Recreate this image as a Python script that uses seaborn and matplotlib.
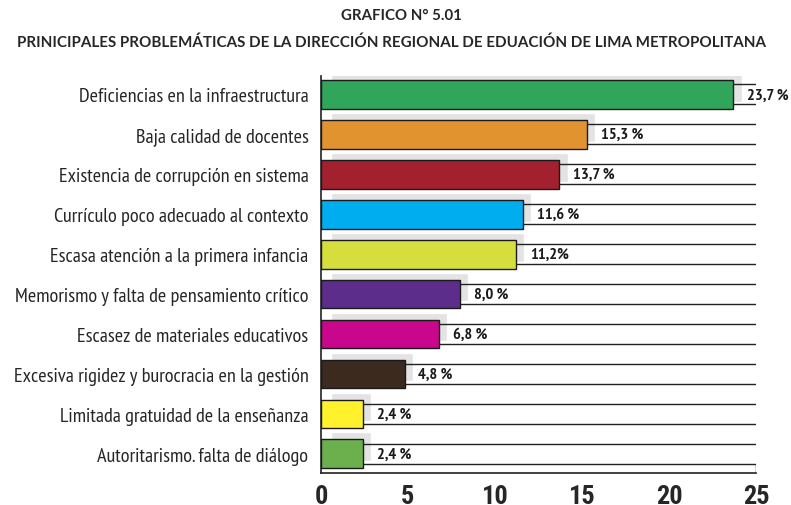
import pandas as pd
import matplotlib.pyplot as plt
import seaborn as sns

# Data
categories = [
    "Deficiencias en la infraestructura",
    "Baja calidad de docentes",
    "Existencia de corrupción en sistema",
    "Currículo poco adecuado al contexto",
    "Escasa atención a la primera infancia",
    "Memorismo y falta de pensamiento crítico",
    "Escasez de materiales educativos",
    "Excesiva rigidez y burocracia en la gestión",
    "Limitada gratuidad de la enseñanza",
    "Autoritarismo. falta de diálogo",
]
values = [23.7, 15.3, 13.7, 11.6, 11.2, 8.0, 6.8, 4.8, 2.4, 2.4]
value_labels = ["23,7 %", "15,3 %", "13,7 %", "11,6 %", "11,2%",
                "8,0 %", "6,8 %", "4,8 %", "2,4 %", "2,4 %"]
colors = ["#2fa65a", "#e19330", "#a3212f", "#00adee", "#d6de3e",
          "#5c2d8b", "#c8078c", "#3c2a1e", "#fff22c", "#6cb04e"]
x_ticks = [0, 5, 10, 15, 20, 25]

df = pd.DataFrame({"problema": categories, "pct": values})

sns.set_theme(style="white")
plt.rcParams["font.family"] = ["PT Sans Narrow", "DejaVu Sans"]

fig = plt.figure(figsize=(7.91, 5.06), dpi=100)
ax = fig.add_axes([0.4058, 0.0632, 0.5499, 0.7846])

# grey drop shadows behind the bars
pos = list(range(len(categories)))
ax.barh([p - 0.175 for p in pos], [v - 0.1 for v in values], left=0.57,
        height=0.72, color="#e3e3e3", zorder=1)

# track lines for every row
for p in pos:
    ax.hlines([p - 0.25, p + 0.25], 0, 25, color="#222222", lw=1.0, zorder=2)

sns.barplot(data=df, y="problema", x="pct", hue="problema", palette=colors,
            saturation=1, legend=False, orient="h", width=0.72,
            edgecolor="#1a1a1a", linewidth=1.0, ax=ax, zorder=3)
for patch in ax.patches[len(pos):]:
    patch.set_zorder(3)

# value labels
for p, v, lab in zip(pos, values, value_labels):
    ax.text(v + 0.8, p, lab, va="center", ha="left", fontsize=11.8,
            fontweight="bold", color="#1a1a1a", zorder=4,
            family=["PT Sans Narrow", "DejaVu Sans"])

# bottom frame box with ticks
ax.vlines(25, 9.25, 9.48, color="#222222", lw=1.0, zorder=2)

ax.set_xlim(0, 25)
ax.set_ylim(9.48, -0.46)
ax.set_xticks(x_ticks)
ax.set_xticklabels([str(t) for t in x_ticks])
ax.tick_params(axis="x", direction="in", length=7.5, width=1.0,
               color="#222222", pad=8, labelsize=19)
for t in ax.get_xticklabels():
    t.set_fontweight("bold")
    t.set_family(["Roboto Condensed", "DejaVu Sans"])
ax.tick_params(axis="y", length=0, pad=9, labelsize=14.6)
ax.set_xlabel("")
ax.set_ylabel("")
for side in ["top", "right"]:
    ax.spines[side].set_visible(False)
for side in ["left", "bottom"]:
    ax.spines[side].set_color("#222222")
    ax.spines[side].set_linewidth(1.2)

fig.text(0.507, 0.968, "GRAFICO N° 5.01", ha="center", va="center",
         fontsize=10.8, fontweight="bold", family=["Lato", "DejaVu Sans"])
fig.text(0.495, 0.915,
         "PRINICIPALES PROBLEMÁTICAS DE LA DIRECCIÓN REGIONAL DE EDUACIÓN DE LIMA METROPOLITANA",
         ha="center", va="center", fontsize=10.9, fontweight="bold",
         family=["Lato", "DejaVu Sans"])

fig.savefig("out.png", dpi=100)
